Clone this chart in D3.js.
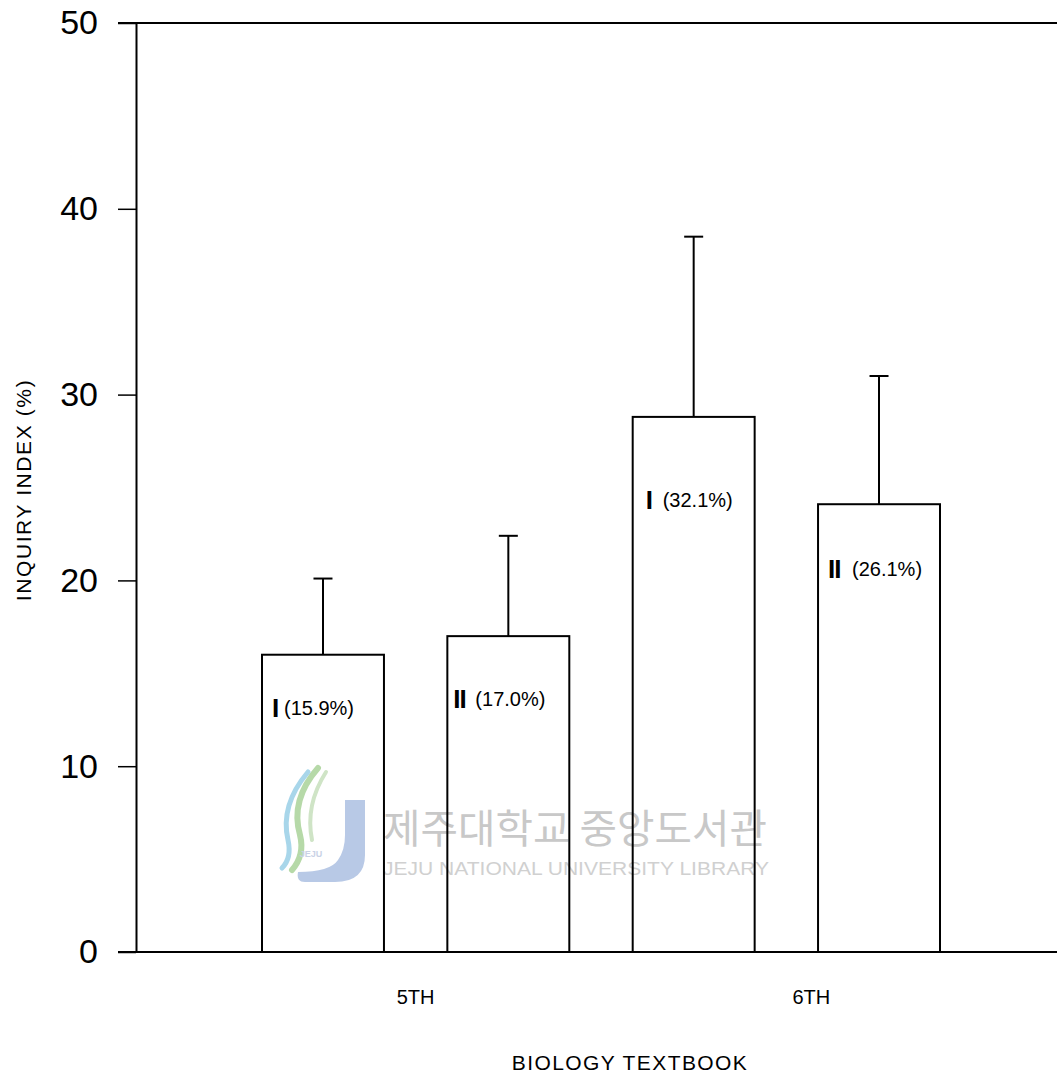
<!DOCTYPE html>
<html>
<head>
<meta charset="utf-8">
<script src="https://cdn.jsdelivr.net/npm/d3@7"></script>
<style>
  html, body { margin: 0; padding: 0; background: #fff; }
  svg { display: block; }
  text { font-family: "Liberation Sans", Arial, Helvetica, sans-serif; fill: #000; }
</style>
</head>
<body>
<svg id="chart" width="1057" height="1081"></svg>
<script>
// ---------- data ----------
const categories = ["5TH", "6TH"];
const subgroups = ["I", "II"];
const barKeys = ["5TH-I", "5TH-II", "6TH-I", "6TH-II"];
const barValues = [16.0, 17.0, 28.8, 24.1];
const errorTops = [20.1, 22.4, 38.5, 31.0];
const barRoman = ["I", "II", "I", "II"];
const barPercent = ["(15.9%)", "(17.0%)", "(32.1%)", "(26.1%)"];
const yTicks = [0, 10, 20, 30, 40, 50];
const yTitle = "INQUIRY  INDEX (%)";
const xTitle = "BIOLOGY  TEXTBOOK";

// ---------- layout ----------
const layout = {
  axisX: 136, top: 23, bottom: 952, right: 1057,
  barLeft: 262, barRight: 940, pad: 0.342,
  tick: 18, tickPad: 20,
  labelDrop: [53, 63, 83, 65],   // px from bar top to label centre
  romanDx: [10, 6, 13, 10],
  pctDx: [22, 28, 30, 34],
  catDx: [0, 25]
};

const svg = d3.select("#chart");

const y = d3.scaleLinear().domain([0, 50]).range([layout.bottom, layout.top]);
const x = d3.scaleBand().domain(barKeys).range([layout.barLeft, layout.barRight])
  .paddingInner(layout.pad).paddingOuter(0);

// ---------- watermark ----------
const wm = svg.append("g").attr("class", "watermark");
wm.append("path")
  .attr("d", "M345,800 L365,800 L365,855 Q365,882 335,882 L305,882 Q296,882 298,872 Q330,872 338,860 Q345,850 345,835 Z")
  .attr("fill", "#b8c9e6");
wm.append("path").attr("d", "M318,768 Q290,800 300,835 Q305,855 292,870")
  .attr("fill", "none").attr("stroke", "#b6d9a8").attr("stroke-width", 6).attr("stroke-linecap", "round");
wm.append("path").attr("d", "M308,772 Q280,805 288,840 Q292,858 282,868")
  .attr("fill", "none").attr("stroke", "#a8d6ea").attr("stroke-width", 5).attr("stroke-linecap", "round");
wm.append("path").attr("d", "M326,772 Q305,805 312,840")
  .attr("fill", "none").attr("stroke", "#cfe4c6").attr("stroke-width", 4).attr("stroke-linecap", "round");
wm.append("text").attr("x", 311).attr("y", 857).attr("text-anchor", "middle")
  .style("font-size", "9px").style("font-weight", "bold").style("fill", "#c9d2e6").text("JEJU");
wm.append("text").attr("x", 383).attr("y", 843)
  .style("font-family", "'Noto Sans CJK KR', sans-serif").style("font-size", "40px")
  .style("fill", "#c8c8c8").attr("textLength", 384).attr("lengthAdjust", "spacingAndGlyphs")
  .text("제주대학교 중앙도서관");
wm.append("text").attr("x", 383).attr("y", 875)
  .style("font-size", "18px").style("fill", "#d0d0d0")
  .attr("textLength", 386).attr("lengthAdjust", "spacingAndGlyphs")
  .text("JEJU NATIONAL UNIVERSITY  LIBRARY");

// ---------- frame lines ----------
svg.append("line").attr("x1", layout.axisX - layout.tick).attr("x2", layout.right)
  .attr("y1", y(50)).attr("y2", y(50)).attr("stroke", "#000").attr("stroke-width", 2);
svg.append("line").attr("x1", layout.axisX - layout.tick).attr("x2", layout.right)
  .attr("y1", y(0)).attr("y2", y(0)).attr("stroke", "#000").attr("stroke-width", 2);

// ---------- y axis ----------
const yAxis = d3.axisLeft(y).tickValues(yTicks).tickSize(layout.tick).tickSizeOuter(0)
  .tickPadding(layout.tickPad).tickFormat(d3.format("d"));
const gy = svg.append("g").attr("transform", `translate(${layout.axisX},0)`).call(yAxis);
gy.select(".domain").attr("stroke", "#000").attr("stroke-width", 2);
gy.selectAll(".tick line").attr("stroke", "#000").attr("stroke-width", 1.5);
gy.selectAll(".tick text").style("font-size", "34px").attr("fill", "#000")
  .style("font-family", "'Liberation Sans', Arial, sans-serif");

// ---------- bars ----------
const bars = svg.append("g");
bars.selectAll("rect").data(barValues).join("rect")
  .attr("x", (d, i) => x(barKeys[i]))
  .attr("y", d => y(d))
  .attr("width", x.bandwidth())
  .attr("height", d => y(0) - y(d))
  .attr("fill", "none").attr("stroke", "#000").attr("stroke-width", 2);

// error bars
const eb = svg.append("g");
eb.selectAll("line.v").data(errorTops).join("line").attr("class", "v")
  .attr("x1", (d, i) => x(barKeys[i]) + x.bandwidth() / 2)
  .attr("x2", (d, i) => x(barKeys[i]) + x.bandwidth() / 2)
  .attr("y1", (d, i) => y(barValues[i])).attr("y2", d => y(d))
  .attr("stroke", "#000").attr("stroke-width", 2);
eb.selectAll("line.c").data(errorTops).join("line").attr("class", "c")
  .attr("x1", (d, i) => x(barKeys[i]) + x.bandwidth() / 2 - 9.5)
  .attr("x2", (d, i) => x(barKeys[i]) + x.bandwidth() / 2 + 9.5)
  .attr("y1", d => y(d)).attr("y2", d => y(d))
  .attr("stroke", "#000").attr("stroke-width", 2);

// bar labels
const lab = svg.append("g");
barValues.forEach((v, i) => {
  const cy = y(v) + layout.labelDrop[i];
  const x0 = x(barKeys[i]);
  lab.append("text").attr("x", x0 + layout.romanDx[i]).attr("y", cy + 9)
    .style("font-size", "26px").style("font-weight", "bold")
    .style("letter-spacing", "-1px")
    .text(barRoman[i]);
  lab.append("text").attr("x", x0 + layout.pctDx[i]).attr("y", cy + 7)
    .style("font-size", "20px").text(barPercent[i]);
});

// category labels
categories.forEach((c, ci) => {
  const k0 = barKeys[ci * 2], k1 = barKeys[ci * 2 + 1];
  const cx = (x(k0) + x(k1) + x.bandwidth()) / 2 + layout.catDx[ci];
  svg.append("text").attr("x", cx).attr("y", 1004).attr("text-anchor", "middle")
    .style("font-size", "20px").text(c);
});

// axis titles
svg.append("text").attr("transform", `translate(31,490) rotate(-90)`)
  .attr("text-anchor", "middle").style("font-size", "21px")
  .style("letter-spacing", "1.6px").text(yTitle);
svg.append("text").attr("x", 630).attr("y", 1070).attr("text-anchor", "middle")
  .style("font-size", "21px").style("letter-spacing", "1.4px").text(xTitle);
</script>
</body>
</html>
